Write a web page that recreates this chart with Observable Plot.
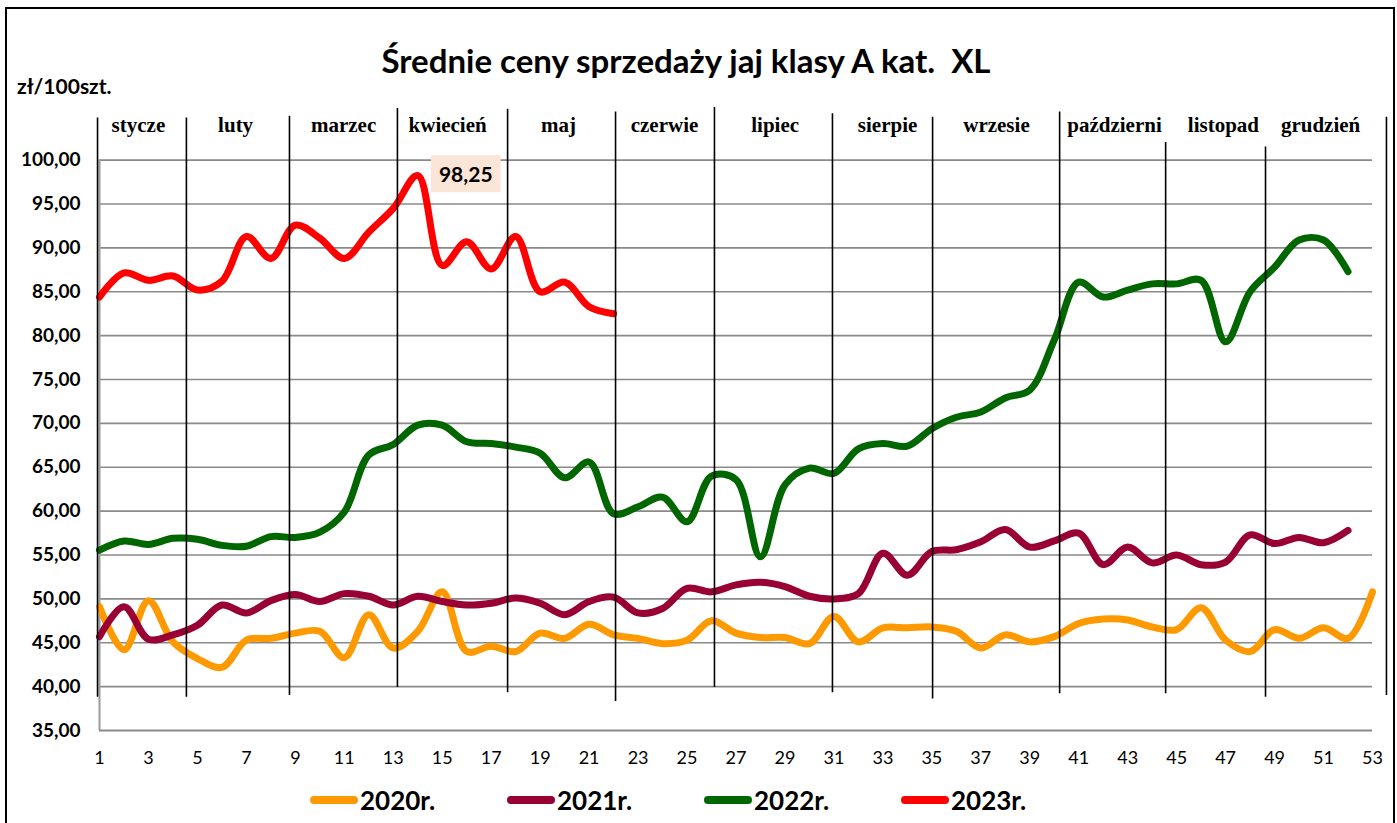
<!DOCTYPE html>
<html><head><meta charset="utf-8">
<script src="https://cdn.jsdelivr.net/npm/d3@7"></script>
<script src="https://cdn.jsdelivr.net/npm/@observablehq/plot@0.6"></script>
<style>
body{margin:0;background:#fff;}
#wrap{position:relative;width:1397px;height:823px;overflow:hidden;background:#fff;font-family:Lato,"Liberation Sans",sans-serif;}
#frame{position:absolute;left:5px;top:7px;width:1386px;height:840px;border:2px solid #000;pointer-events:none;}
#title{position:absolute;left:0;top:38px;width:1372px;text-align:center;font-weight:bold;font-size:33px;line-height:44px;color:#000;}
#unit{position:absolute;left:17px;top:73px;font-weight:bold;font-size:21px;line-height:26px;color:#000;}
#chart{position:absolute;left:0;top:0;}
.leg{position:absolute;top:786px;height:28px;display:flex;align-items:center;}
.sw{width:48px;height:8px;border-radius:4px;margin-right:2px;}
.lt{font-weight:bold;font-size:26px;color:#000;}
</style>
</head><body>
<div id="wrap">
  <div id="chart"></div>
  <div id="title">Średnie ceny sprzedaży jaj klasy A kat.&nbsp; XL</div>
  <div id="unit">zł/100szt.</div>
  <div id="legend"></div>
  <div id="frame"></div>
</div>
<script>
const seriesNames = ["2020r.", "2021r.", "2022r.", "2023r."];
const seriesColors = ["#FF9900", "#990033", "#006600", "#FF0000"];

const y2020 = [49.1,44.2,49.8,45.1,43.2,42.2,45.3,45.5,46.1,46.3,
  43.3,48.2,44.4,46.3,50.8,44.0,44.6,44.0,46.1,45.5,
  47.1,45.9,45.5,44.9,45.3,47.5,46.1,45.6,45.6,44.9,
  48.0,45.1,46.7,46.7,46.8,46.3,44.4,45.9,45.1,45.7,
  47.2,47.7,47.6,46.8,46.5,49.0,45.3,44.0,46.5,45.5,
  46.7,45.5,50.8];
const y2021 = [45.7,49.1,45.4,45.9,47.0,49.3,48.4,49.8,50.5,49.7,
  50.6,50.3,49.3,50.3,49.7,49.3,49.5,50.1,49.5,48.2,
  49.7,50.2,48.4,48.9,51.2,50.8,51.6,51.9,51.4,50.3,
  50.0,50.6,55.2,52.7,55.4,55.6,56.5,57.9,55.9,56.6,
  57.5,53.9,55.9,54.1,55.0,53.9,54.2,57.3,56.3,57.0,
  56.4,57.8];
const y2022 = [55.55,56.6,56.2,56.9,56.8,56.1,56.0,57.1,57.0,57.6,
  59.9,66.4,67.6,69.8,69.8,67.9,67.7,67.3,66.6,63.8,
  65.6,59.7,60.5,61.6,58.8,64.0,63.6,54.8,63.0,64.9,
  64.3,67.1,67.7,67.4,69.4,70.7,71.3,72.9,73.8,79.5,
  86.1,84.4,85.2,85.9,85.9,86.3,79.3,85.0,87.8,90.9,
  90.9,87.3];
const y2023 = [84.4,87.15,86.3,86.8,85.2,86.2,91.3,88.8,92.6,91.1,
  88.8,91.8,94.5,98.25,88.0,90.7,87.6,91.3,85.0,86.1,
  83.3,82.5];

const monthNames = ["stycze","luty","marzec","kwiecień","maj","czerwie","lipiec","sierpie","wrzesie","październi","listopad","grudzień"];
const monthLabelWeek = [2.59,6.56,10.97,15.22,19.75,24.08,28.6,33.19,37.64,42.46,46.91,50.88];
const monthBounds = [0.92,4.55,8.76,13.17,17.67,22.08,26.12,30.94,35.03,40.22,44.55,48.63,53.57];
const boundTop = [104.8,104.8,105.0,105.9,105.8,105.5,106.0,105.3,104.9,105.5,102.0,101.5,104.9];
const boundBottom = [38.8,38.8,39.0,39.9,39.3,38.3,39.9,39.3,38.6,39.2,39.2,38.8,39.0];

const peakWeek = 14, peakValue = 98.25;

const yTicks = d3.range(35, 101, 5);
const gridTicks = d3.range(40, 101, 5);
const xTicks = d3.range(1, 54, 2);

const allSeries = [y2020, y2021, y2022, y2023];
const rows = [];
allSeries.forEach((arr, i) => arr.forEach((v, j) => rows.push({series: seriesNames[i], week: j + 1, value: v})));
const bounds = monthBounds.map((w, i) => ({w, top: boundTop[i], bottom: boundBottom[i]}));
const months = monthNames.map((m, i) => ({m, w: monthLabelWeek[i]}));
const fmt = d => d3.format(".2f")(d).replace(".", ",");

const plot = Plot.plot({
  width: 1397,
  height: 775,
  marginLeft: 99,
  marginRight: 25,
  marginTop: 107,
  marginBottom: 45,
  style: {fontFamily: "Lato, 'Liberation Sans', sans-serif", background: "transparent", color: "#000"},
  x: {domain: [1, 53]},
  y: {domain: [35, 106]},
  color: {domain: seriesNames, range: seriesColors},
  marks: [
    Plot.ruleY(gridTicks, {stroke: "#8a8a8a", strokeWidth: 1.6}),
    Plot.ruleY([35], {stroke: "#8a8a8a", strokeWidth: 2}),
    Plot.ruleX([1], {y1: 35, y2: 100, stroke: "#9a9a9a", strokeWidth: 2}),
    Plot.axisY({ticks: yTicks, tickFormat: fmt, tickSize: 0, tickPadding: 19, fontSize: 19, fontWeight: "bold", label: null}),
    Plot.axisX({ticks: xTicks, tickFormat: d => String(d), tickSize: 0, tickPadding: 21, fontSize: 18, label: null}),
    Plot.line(rows, {x: "week", y: "value", z: "series", stroke: "series", curve: "catmull-rom", strokeWidth: 7, strokeLinecap: "round", strokeLinejoin: "round"}),
    Plot.ruleX(bounds, {x: "w", y1: "bottom", y2: "top", stroke: "#000", strokeWidth: 1.6}),
    Plot.text(months, {x: "w", y: 104, text: "m", fontFamily: "'Liberation Serif', serif", fontWeight: "bold", fontSize: 21, fill: "#000"}),
    Plot.text([{w: peakWeek, v: peakValue}], {x: "w", y: "v", text: d => fmt(d.v), dx: 48, fontSize: 21, fontWeight: "bold", fill: "#000"})
  ]
});
document.getElementById("chart").appendChild(plot);

// background box for the data label
const lbl = Array.from(plot.querySelectorAll("text")).find(t => t.textContent === fmt(peakValue));
if (lbl) {
  const bb = lbl.getBBox();
  const ns = "http://www.w3.org/2000/svg";
  const r = document.createElementNS(ns, "rect");
  r.setAttribute("x", bb.x - 8); r.setAttribute("y", bb.y - 6);
  r.setAttribute("width", bb.width + 16); r.setAttribute("height", bb.height + 12);
  r.setAttribute("fill", "#FBE5D6");
  const t = lbl.getAttribute("transform");
  if (t) r.setAttribute("transform", t);
  lbl.parentNode.insertBefore(r, lbl);
}

// legend
const leg = document.getElementById("legend");
seriesNames.forEach((s, i) => {
  const d = document.createElement("div");
  d.className = "leg";
  d.style.left = (310 + 197 * i) + "px";
  d.innerHTML = `<div class="sw" style="background:${seriesColors[i]}"></div><div class="lt">${s}</div>`;
  leg.appendChild(d);
});
</script>
</body></html>
